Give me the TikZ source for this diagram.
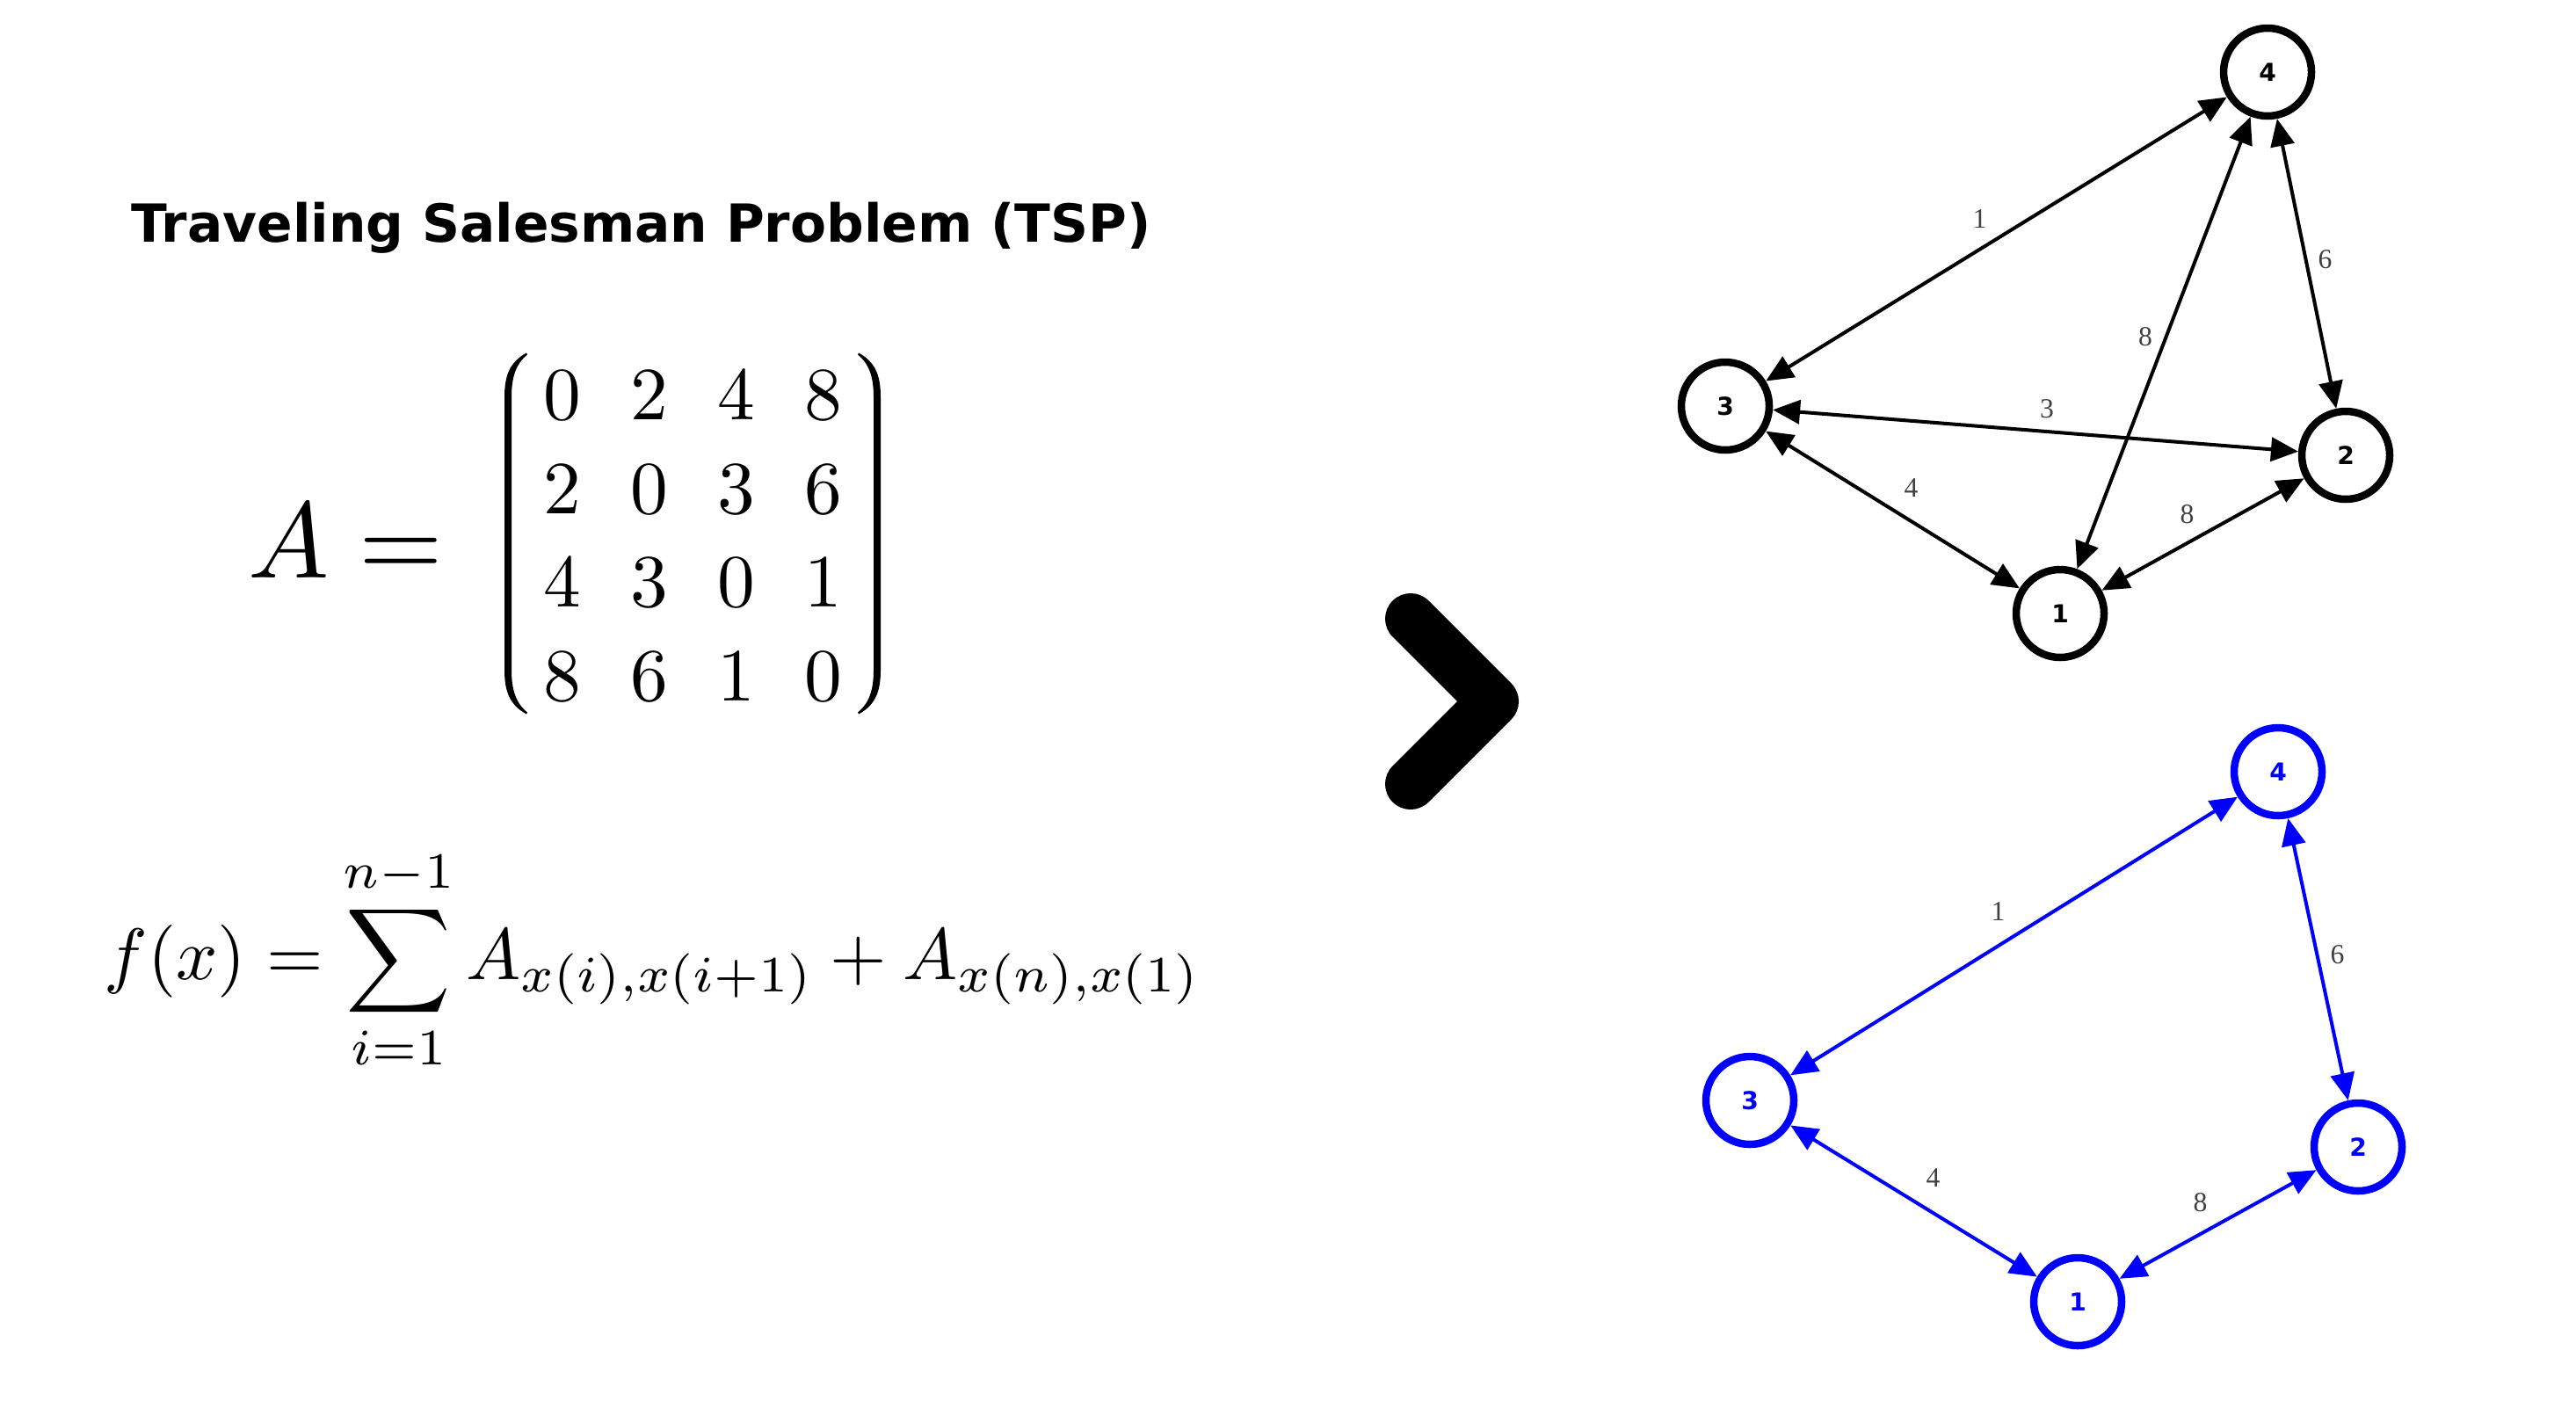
\documentclass[tikz,border=0pt]{standalone}
\usepackage{amsmath}
\usepackage{fontspec}
\usepackage{tikz}
\usetikzlibrary{arrows.meta}
\newfontfamily\headfont{DejaVu Sans}
\newfontfamily\labelfont{Liberation Serif}
\tikzset{
    headline/.style={font=\headfont\bfseries\fontsize{17}{20}\selectfont, anchor=base west, inner sep=0pt},
    city/.style={circle, draw, line width=0.85mm, minimum size=10mm, inner sep=0pt, font=\headfont\bfseries\fontsize{8}{9}\selectfont},
    bluecity/.style={city, draw=blue, text=blue},
    road/.style={{Triangle[length=3.1mm, width=2.7mm]}-{Triangle[length=3.1mm, width=2.7mm]}, line width=0.4mm},
    blueroad/.style={road, blue},
    weight/.style={midway, inner sep=0pt, text=black!75, font=\labelfont\fontsize{9}{10}\selectfont},
    bracket/.style={fill=black, draw=none},
    chevron/.style={line width=5.8mm, line cap=round, line join=round}
}

\begin{document}
\begin{tikzpicture}
    \path[use as bounding box, fill=white] (0,0) rectangle (29.31,-15.93);

    % Title (top left)
    \node[headline] (tsp_title) at (1.49,-2.75) {Traveling Salesman Problem (TSP)};

    % Distance matrix
    \node[scale=3.5, anchor=base west, inner sep=0pt] (matrix_lhs) at (2.80,-6.57) {$A =$};
    \coordinate (matrix_mid) at (7.88,-6.07);
    \node[scale=2.43, inner sep=0pt] (matrix_body) at (7.88,-6.16)
        {\setlength{\arraycolsep}{3.3pt}\renewcommand{\arraystretch}{1.04}%
        $\begin{matrix}
            0 & 2 & 4 & 8\\
            2 & 0 & 3 & 6\\
            4 & 3 & 0 & 1\\
            8 & 6 & 1 & 0
        \end{matrix}$};
    % thin round brackets round the matrix
    \foreach \side in {1,-1}
        \fill[bracket, shift={(matrix_mid)}, xscale=\side]
            (-1.89,2.055) .. controls (-2.08,1.95) and (-2.14,1.80) .. (-2.14,1.55)
            -- (-2.14,-1.55) .. controls (-2.14,-1.80) and (-2.08,-1.95) .. (-1.89,-2.055)
            -- (-1.88,-2.035) .. controls (-2.01,-1.93) and (-2.06,-1.78) .. (-2.06,-1.55)
            -- (-2.06,1.55) .. controls (-2.06,1.78) and (-2.01,1.93) .. (-1.88,2.035) -- cycle;

    % Tour length
    \node[scale=2.36, anchor=base west, inner sep=0pt] (tour_cost) at (1.17,-11.14)
        {$\displaystyle f(x) = \sum_{i=1}^{n-1} A_{x(i),x(i+1)} + A_{x(n),x(1)}$};

    % Chevron between the two halves
    \draw[chevron] (16.05,-7.04) -- (16.99,-7.98) -- (16.05,-8.92);

    % Full graph (top right)
    \node[city] (top_4) at (25.80,-0.82) {4};
    \node[city] (top_3) at (19.63,-4.62) {3};
    \node[city] (top_2) at (26.69,-5.18) {2};
    \node[city] (top_1) at (23.44,-6.98) {1};

    \draw[road] (top_4) -- node[weight, xshift=-1.9mm, yshift=2.3mm] {1} (top_3);
    \draw[road] (top_4) -- node[weight, xshift=-2.1mm, yshift=0.7mm] {8} (top_1);
    \draw[road] (top_4) -- node[weight, xshift=2.1mm, yshift=0.5mm] {6} (top_2);
    \draw[road] (top_3) -- node[weight, xshift=1.3mm, yshift=2.5mm] {3} (top_2);
    \draw[road] (top_3) -- node[weight, xshift=2.1mm, yshift=2.5mm] {4} (top_1);
    \draw[road] (top_1) -- node[weight, xshift=-1.8mm, yshift=2.3mm] {8} (top_2);

    % Tour (bottom right)
    \node[bluecity] (tour_4) at (25.92,-8.78) {4};
    \node[bluecity] (tour_3) at (19.91,-12.52) {3};
    \node[bluecity] (tour_2) at (26.83,-13.05) {2};
    \node[bluecity] (tour_1) at (23.64,-14.81) {1};

    \draw[blueroad] (tour_4) -- node[weight, xshift=-1.8mm, yshift=2.8mm] {1} (tour_3);
    \draw[blueroad] (tour_4) -- node[weight, xshift=2.2mm, yshift=0.5mm] {6} (tour_2);
    \draw[blueroad] (tour_3) -- node[weight, xshift=2.2mm, yshift=2.6mm] {4} (tour_1);
    \draw[blueroad] (tour_1) -- node[weight, xshift=-2.0mm, yshift=2.5mm] {8} (tour_2);
\end{tikzpicture}
\end{document}
